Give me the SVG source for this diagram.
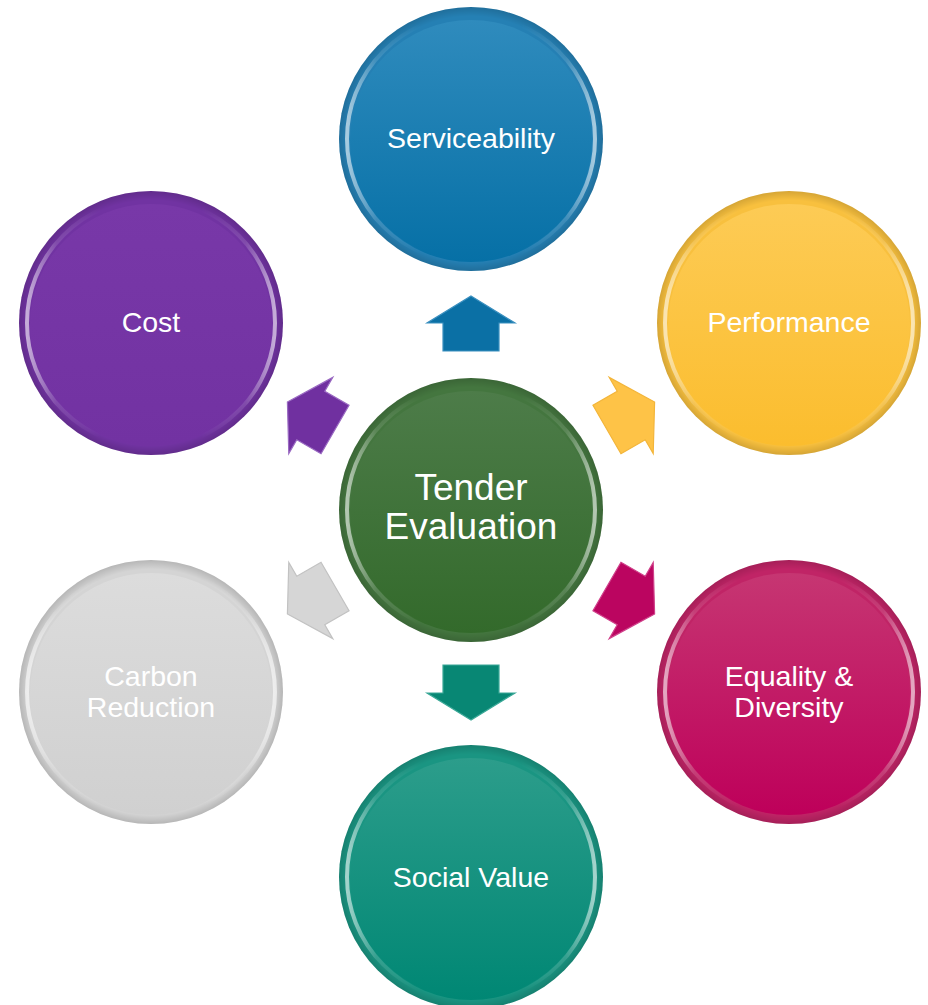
<svg xmlns="http://www.w3.org/2000/svg" width="928" height="1005" viewBox="0 0 928 1005">
<defs>
<linearGradient id="gBlue" x1="0" y1="0" x2="0" y2="1"><stop offset="0" stop-color="#2f8bbd"/><stop offset="1" stop-color="#0670a6"/></linearGradient>
<linearGradient id="gYellow" x1="0" y1="0" x2="0" y2="1"><stop offset="0" stop-color="#fdcb55"/><stop offset="1" stop-color="#fbbd2e"/></linearGradient>
<linearGradient id="gPurple" x1="0" y1="0" x2="0" y2="1"><stop offset="0" stop-color="#7838a8"/><stop offset="1" stop-color="#7232a2"/></linearGradient>
<linearGradient id="gPink" x1="0" y1="0" x2="0" y2="1"><stop offset="0" stop-color="#c63672"/><stop offset="1" stop-color="#be005a"/></linearGradient>
<linearGradient id="gGrey" x1="0" y1="0" x2="0" y2="1"><stop offset="0" stop-color="#dcdcdc"/><stop offset="1" stop-color="#d0d0d0"/></linearGradient>
<linearGradient id="gGreen" x1="0" y1="0" x2="0" y2="1"><stop offset="0" stop-color="#4d7c49"/><stop offset="1" stop-color="#336a2b"/></linearGradient>
<linearGradient id="gTeal" x1="0" y1="0" x2="0" y2="1"><stop offset="0" stop-color="#2c9d8b"/><stop offset="1" stop-color="#008774"/></linearGradient>
<linearGradient id="hl" x1="0" y1="0" x2="1" y2="0">
<stop offset="0" stop-color="#fff" stop-opacity="0.6"/><stop offset="0.12" stop-color="#fff" stop-opacity="0.12"/><stop offset="0.3" stop-color="#fff" stop-opacity="0"/><stop offset="0.7" stop-color="#fff" stop-opacity="0"/><stop offset="0.88" stop-color="#fff" stop-opacity="0.12"/><stop offset="1" stop-color="#fff" stop-opacity="0.6"/>
</linearGradient>
<radialGradient id="edge" cx="0.5" cy="0.5" r="0.5">
<stop offset="0.93" stop-color="#000" stop-opacity="0"/><stop offset="1" stop-color="#000" stop-opacity="0.14"/>
</radialGradient>
<path id="arr" d="M471,296 L515,323 L499,323 L499,351 L443,351 L443,323 L427,323 Z"/>
</defs>
<style>
.lbl{font-family:"Liberation Sans",Arial,sans-serif;font-size:28.5px;fill:#fff;text-anchor:middle}
.big{font-size:37px}
.ring{fill:none;stroke:url(#hl);stroke-width:4}
.shade{fill:url(#edge)}
.arrow{stroke-width:1.2;stroke-linejoin:miter}
</style>
<rect width="928" height="1005" fill="#fff"/>

<g id="connectors">
<use href="#arr" class="arrow" fill="#0b70a5" stroke="#3a8fbf"/>
<use href="#arr" class="arrow" fill="#fec347" stroke="#f3b53a" transform="rotate(60 471 508)"/>
<use href="#arr" class="arrow" fill="#bb0560" stroke="#d0408a" transform="rotate(120 471 508)"/>
<use href="#arr" class="arrow" fill="#088774" stroke="#3aa897" transform="rotate(180 471 508)"/>
<use href="#arr" class="arrow" fill="#d6d6d6" stroke="#c2c2c2" transform="rotate(240 471 508)"/>
<use href="#arr" class="arrow" fill="#7030a0" stroke="#9a6ac2" transform="rotate(300 471 508)"/>
</g>

<g id="serviceability">
<circle cx="471" cy="139" r="132" fill="#2580b4"/>
<circle cx="471" cy="139" r="132" class="shade"/>
<circle cx="471" cy="141" r="121" fill="url(#gBlue)"/>
<circle cx="471" cy="139" r="124" class="ring"/>
<text class="lbl" x="471" y="148">Serviceability</text>
</g>

<g id="performance">
<circle cx="789" cy="323" r="132" fill="#f8c03e"/>
<circle cx="789" cy="323" r="132" class="shade"/>
<circle cx="789" cy="325" r="121" fill="url(#gYellow)"/>
<circle cx="789" cy="323" r="124" class="ring"/>
<text class="lbl" x="789" y="332">Performance</text>
</g>

<g id="cost">
<circle cx="151" cy="323" r="132" fill="#7133a2"/>
<circle cx="151" cy="323" r="132" class="shade"/>
<circle cx="151" cy="325" r="121" fill="url(#gPurple)"/>
<circle cx="151" cy="323" r="124" class="ring"/>
<text class="lbl" x="151" y="332">Cost</text>
</g>

<g id="tender-evaluation">
<circle cx="471" cy="510" r="132" fill="#44763f"/>
<circle cx="471" cy="510" r="132" class="shade"/>
<circle cx="471" cy="512" r="121" fill="url(#gGreen)"/>
<circle cx="471" cy="510" r="124" class="ring"/>
<text class="lbl big" x="471" y="500">Tender</text>
<text class="lbl big" x="471" y="539">Evaluation</text>
</g>

<g id="equality-diversity">
<circle cx="789" cy="692" r="132" fill="#c02466"/>
<circle cx="789" cy="692" r="132" class="shade"/>
<circle cx="789" cy="694" r="121" fill="url(#gPink)"/>
<circle cx="789" cy="692" r="124" class="ring"/>
<text class="lbl" x="789" y="686">Equality &amp;</text>
<text class="lbl" x="789" y="717">Diversity</text>
</g>

<g id="carbon-reduction">
<circle cx="151" cy="692" r="132" fill="#d4d4d4"/>
<circle cx="151" cy="692" r="132" class="shade"/>
<circle cx="151" cy="694" r="121" fill="url(#gGrey)"/>
<circle cx="151" cy="692" r="124" class="ring"/>
<text class="lbl" x="151" y="686">Carbon</text>
<text class="lbl" x="151" y="717">Reduction</text>
</g>

<g id="social-value">
<circle cx="471" cy="877" r="132" fill="#1a9582"/>
<circle cx="471" cy="877" r="132" class="shade"/>
<circle cx="471" cy="879" r="121" fill="url(#gTeal)"/>
<circle cx="471" cy="877" r="124" class="ring"/>
<text class="lbl" x="471" y="887">Social Value</text>
</g>
</svg>
